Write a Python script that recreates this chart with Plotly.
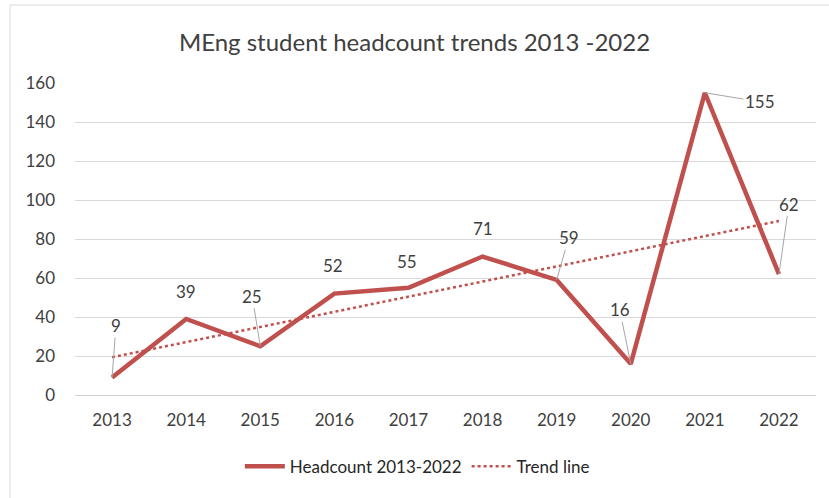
import numpy as np
import plotly.graph_objects as go

years = ["2013", "2014", "2015", "2016", "2017", "2018", "2019", "2020", "2021", "2022"]
headcount = [9, 39, 25, 52, 55, 71, 59, 16, 155, 62]
series_name = "Headcount 2013-2022"
trend_name = "Trend line"
title_text = "MEng student headcount trends 2013 -2022"

# linear trend line (least squares fit of the headcount series)
xi = np.arange(len(headcount))
slope, intercept = np.polyfit(xi, headcount, 1)
trend = list(slope * xi + intercept)

# label placement (pixel offsets from the point; leader = draw a callout line)
label_offsets = [(4, -52, True), (0, -27, False), (-8, -50, True), (-1, -28, False),
                 (-1, -26, False), (0, -28, False), (12, -42, True), (-11, -54, True),
                 (55, 9, True), (10, -70, True)]

RED = "#C0504D"
FONT = "Lato, 'Open Sans', sans-serif"
TXT = "#404040"

fig = go.Figure()
fig.add_trace(go.Scatter(x=years, y=headcount, mode="lines", name=series_name,
                         line=dict(color=RED, width=4.5)))
fig.add_trace(go.Scatter(x=years, y=trend, mode="lines", name=trend_name,
                         line=dict(color=RED, width=2.5, dash="dot")))

for i, (v, (dx, dy, leader)) in enumerate(zip(headcount, label_offsets)):
    if leader:
        fig.add_annotation(x=i, y=v, xref="x", yref="y", text=str(v), showarrow=True,
                           arrowhead=0, arrowwidth=1, arrowcolor="#A6A6A6",
                           ax=dx, ay=dy, standoff=0,
                           font=dict(size=17, color=TXT, family=FONT))
    else:
        fig.add_annotation(x=i, y=v, xref="x", yref="y", text=str(v), showarrow=False,
                           xshift=dx, yshift=-dy,
                           font=dict(size=17, color=TXT, family=FONT))

# outer chart border
fig.add_shape(type="rect", xref="paper", yref="paper",
              x0=-0.0877, x1=1.1, y0=-0.36, y1=1.25,
              line=dict(color="#D9D9D9", width=1), fillcolor="rgba(0,0,0,0)", layer="below")

fig.update_layout(
    width=829, height=498,
    margin=dict(l=75, r=13, t=83, b=103),
    paper_bgcolor="white", plot_bgcolor="white",
    font=dict(family=FONT, color=TXT, size=17),
    title=dict(text=title_text, x=0.5, xanchor="center", y=0.915, yanchor="middle",
               font=dict(size=24, color=TXT, family=FONT)),
    showlegend=True,
    legend=dict(orientation="h", x=0.462, xanchor="center", y=-0.23, yanchor="middle",
                font=dict(size=17, color="#262626", family=FONT), itemwidth=40,
                traceorder="normal"),
    xaxis=dict(type="category", range=[-0.5, 9.5], showgrid=False, zeroline=False,
               showline=False, ticks="", tickfont=dict(size=17, color=TXT),
               ticklabelstandoff=13, fixedrange=True),
    yaxis=dict(range=[0, 160], dtick=20, tick0=0, showgrid=True, gridcolor="#D9D9D9",
               gridwidth=1, zeroline=True, zerolinecolor="#D0D0D0", zerolinewidth=1,
               showline=False, ticks="", tickfont=dict(size=17, color=TXT),
               ticklabelstandoff=19, fixedrange=True),
)

fig.write_html("out.html", config={"displayModeBar": False},
               post_script="document.body.style.margin='0';")
